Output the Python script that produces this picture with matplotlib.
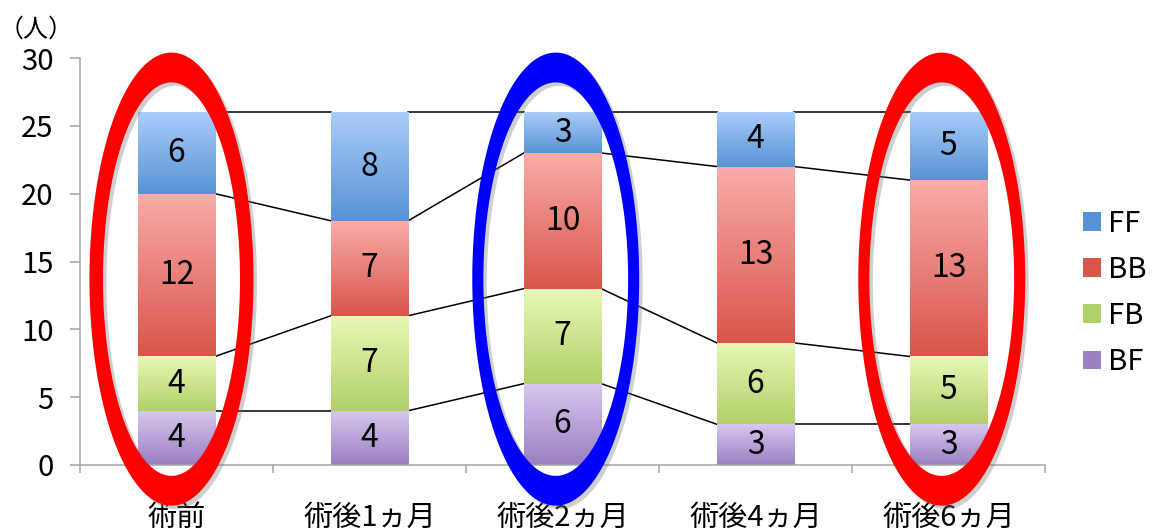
import numpy as np
import matplotlib
matplotlib.use("Agg")
import matplotlib.pyplot as plt
import matplotlib.patheffects as pe
from matplotlib.colors import LinearSegmentedColormap
from matplotlib.path import Path
from matplotlib.patches import PathPatch, Patch

# データ（下から BF, FB, BB, FF の順に積み上げ）
categories = ["術前", "術後1ヵ月", "術後2ヵ月", "術後4ヵ月", "術後6ヵ月"]
bf = [4, 4, 6, 3, 3]
fb = [4, 7, 7, 6, 5]
bb = [12, 7, 10, 13, 13]
ff = [6, 8, 3, 4, 5]
yticks = [0, 5, 10, 15, 20, 25, 30]
unit_label = "（人）"

# 強調する項目と枠の色
highlight_idx = [0, 2, 4]
highlight_colors = ["#FF0000", "#0000FF", "#FF0000"]

plt.rcParams["font.family"] = ["Noto Sans CJK JP", "DejaVu Sans"]

# 系列ごとのグラデーション（上: 明るい, 下: 濃い）
series = [
    ("BF", bf, "#D7C8EF", "#9A7FC2"),
    ("FB", fb, "#E7F8B6", "#B2D069"),
    ("BB", bb, "#FAACAA", "#D8554B"),
    ("FF", ff, "#AACCF9", "#5793D5"),
]

fig = plt.figure(figsize=(11.6, 5.31), dpi=100)
ax = fig.add_axes([80 / 1160, 66 / 531, 965 / 1160, 407 / 531])

x = np.arange(len(categories))
width = 0.4
bottom = np.zeros(len(categories))
levels = []

for name, vals, top_c, bot_c in series:
    vals = np.array(vals, dtype=float)
    cmap = LinearSegmentedColormap.from_list(name, [bot_c, top_c])
    bars = ax.bar(x, vals, width, bottom=bottom, color=bot_c, zorder=2, linewidth=0)
    grad = np.linspace(0, 1, 256).reshape(-1, 1)
    for rect, v in zip(bars, vals):
        x0, y0 = rect.get_x(), rect.get_y()
        ax.imshow(grad, cmap=cmap, origin="lower", aspect="auto", zorder=2.1,
                  extent=(x0, x0 + rect.get_width(), y0, y0 + rect.get_height()))
        ax.text(x0 + rect.get_width() / 2, y0 + v / 2, f"{int(v)}", ha="center",
                va="center", fontsize=23, color="black", zorder=3)
    bottom = bottom + vals
    levels.append(bottom.copy())

# 系列線（隣り合う棒の境目を結ぶ）
for lev in levels:
    for i in range(len(categories) - 1):
        ax.plot([x[i] + width / 2, x[i + 1] - width / 2], [lev[i], lev[i + 1]],
                color="black", lw=1.1, zorder=1.5)

# 強調用の楕円リング
t = np.linspace(0, 2 * np.pi, 200)
cy, h_out, h_in = 13.7, 33.4, 29.0
for k, (idx, col) in enumerate(zip(highlight_idx, highlight_colors)):
    cx = x[idx] - (0.026 if k == 0 else 0.035)
    w_out, w_in = (0.85, 0.71) if k == 0 else (0.865, 0.75)
    outer = np.column_stack([cx + w_out / 2 * np.cos(t), cy + h_out / 2 * np.sin(t)])
    inner = np.column_stack([cx + w_in / 2 * np.cos(t[::-1]), cy + h_in / 2 * np.sin(t[::-1])])
    verts = np.vstack([outer, inner])
    codes = ([Path.MOVETO] + [Path.LINETO] * (len(t) - 2) + [Path.CLOSEPOLY]) * 2
    ring = PathPatch(Path(verts, codes), facecolor=col, edgecolor="none",
                     zorder=5, clip_on=False)
    ring.set_path_effects([pe.SimplePatchShadow(offset=(2.5, -2.5), shadow_rgbFace="#777777",
                                                alpha=0.35), pe.Normal()])
    ax.add_patch(ring)

ax.set_xlim(-0.5, len(categories) - 0.5)
ax.set_ylim(0, 30)
ax.set_yticks(yticks)
ax.set_xticks(x)
ax.set_xticklabels(categories, fontsize=21)
ax.set_xticks(np.arange(len(categories) + 1) - 0.5, minor=True)
ax.tick_params(axis="y", labelsize=21, length=7, width=1.1, color="#A6A6A6", pad=12)
ax.tick_params(axis="x", which="major", length=0, pad=27)
ax.tick_params(axis="x", which="minor", length=6, width=1.1, color="#A6A6A6")

for side in ["top", "right"]:
    ax.spines[side].set_visible(False)
for side in ["left", "bottom"]:
    ax.spines[side].set_color("#A6A6A6")
    ax.spines[side].set_linewidth(1.1)

fig.text(36 / 1160, 1 - 30 / 531, unit_label, fontsize=18, ha="center", va="center")

handles = [Patch(facecolor=s[3], edgecolor="none") for s in series[::-1]]
ax.legend(handles, [s[0] for s in series[::-1]], loc="center left",
          bbox_to_anchor=(1083 / 1160, 1 - 293 / 531), bbox_transform=fig.transFigure,
          frameon=False, fontsize=21, handlelength=0.6, handleheight=0.6,
          handletextpad=0.25, labelspacing=0.55, borderaxespad=0, borderpad=0)

fig.savefig("out.png", dpi=100)
